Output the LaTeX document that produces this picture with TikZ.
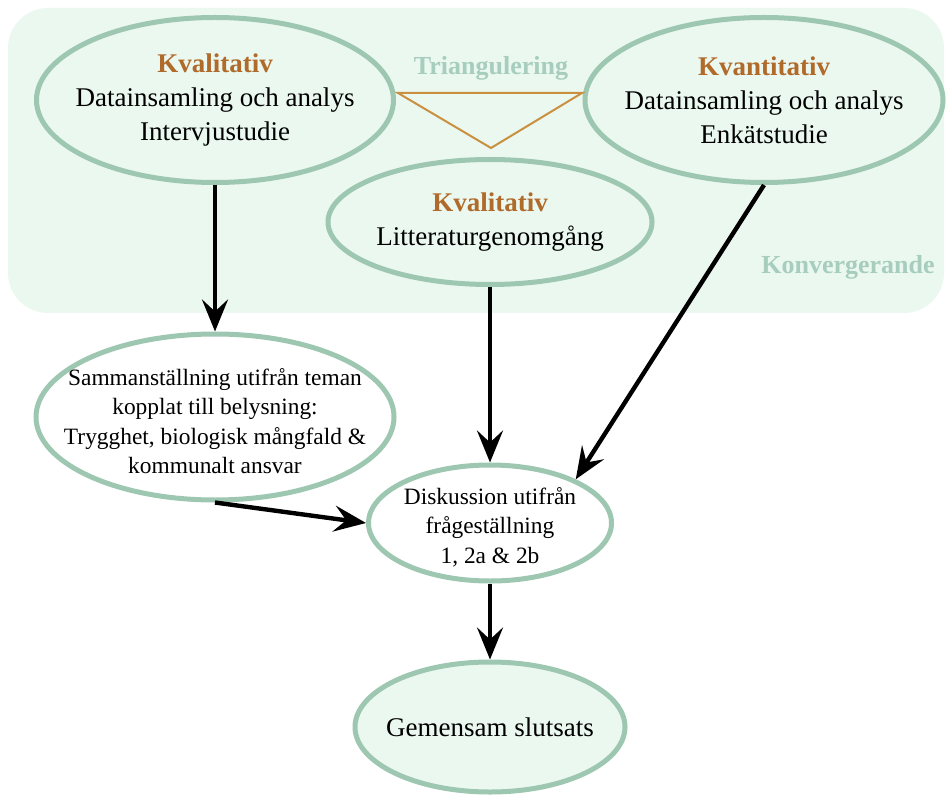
\documentclass[tikz,border=0pt]{standalone}
\usepackage{fontspec}
\setmainfont{Liberation Serif}
\usepackage{xcolor}
\usetikzlibrary{positioning,shapes.geometric,arrows.meta}
\definecolor{mint}{HTML}{EBF8F0}
\definecolor{sage}{HTML}{9DC7B1}
\definecolor{pale}{HTML}{A6CDBE}
\definecolor{rust}{HTML}{B06A2A}
\definecolor{ochre}{HTML}{C99040}
\tikzset{
  blob/.style  = {ellipse, draw=sage, line width=2.5pt, inner sep=0pt},
  soft/.style  = {blob, fill=mint},
  plain/.style = {blob, fill=white},
  words/.style = {align=center, font=\fontsize{13.5}{17}\selectfont},
  small/.style = {align=center, font=\fontsize{11.7}{14.7}\selectfont, yshift=-2pt},
  tag/.style   = {font=\bfseries\fontsize{13}{16}\selectfont, text=pale},
  arr/.style   = {-{Stealth[length=16pt,width=13pt,inset=6pt]}, line width=2.2pt}
}
\newcommand{\head}[1]{\textcolor{rust}{\textbf{#1}}}

\begin{document}
\begin{tikzpicture}[x=0.5pt, y=-0.5pt]
        \useasboundingbox (0,0) rectangle (946,796);
        % the shaded field behind the three studies
        \fill[mint, rounded corners=20pt] (8,8) rectangle (944,313);
        % the three studies
        \node[soft, minimum width=178.5pt, minimum height=82.5pt,
          label={[words, name=kvalA-t]center:{\head{Kvalitativ}\\Datainsamling och analys\\Intervjustudie}}]
          (kvalA) at (215,100) {};
        \node[soft, minimum width=179pt, minimum height=82.5pt,
          label={[words, name=kvant-t]center:{\head{Kvantitativ}\\Datainsamling och analys\\Enkätstudie}}]
          (kvant) at (764,100) {};
        \node[soft, minimum width=162pt, minimum height=62.5pt,
          label={[words, name=kvalB-t]center:{\head{Kvalitativ}\\Litteraturgenomgång}}]
          (kvalB) at (490,222) {};
        \node[tag] (trian) at (491,68) {Triangulering};
        \node[tag] (konv) at (848,267) {Konvergerande};
        \draw[ochre, line width=1pt] (398,93) -- (582,93) -- (491,148) -- cycle;
        % the second level
        \node[plain, minimum width=179pt, minimum height=83pt,
          label={[small, name=samm-t]center:{Sammanställning utifrån teman\\kopplat till belysning:\\Trygghet, biologisk mångfald \&\\kommunalt ansvar}}]
          (samm) at (215,417) {};
        \node[plain, minimum width=121.5pt, minimum height=58pt,
          label={[small, name=disk-t]center:{Diskussion utifrån\\frågeställning\\1, 2a \& 2b}}]
          (disk) at (490,523) {};
        \node[soft, minimum width=135pt, minimum height=65pt,
          label={[words, name=gem-t]center:Gemensam slutsats}]
          (gem) at (490,727) {};
        % arrows between the levels
        \draw[arr] (kvalA.south) -- (samm.north);
        \draw[arr] (kvalB.south) -- (disk.north);
        \draw[arr] (kvant.south) -- (disk.27);
        \draw[arr] (samm.south) -- (disk.west);
        \draw[arr] (disk.south) -- (gem.north);
\end{tikzpicture}
\end{document}
